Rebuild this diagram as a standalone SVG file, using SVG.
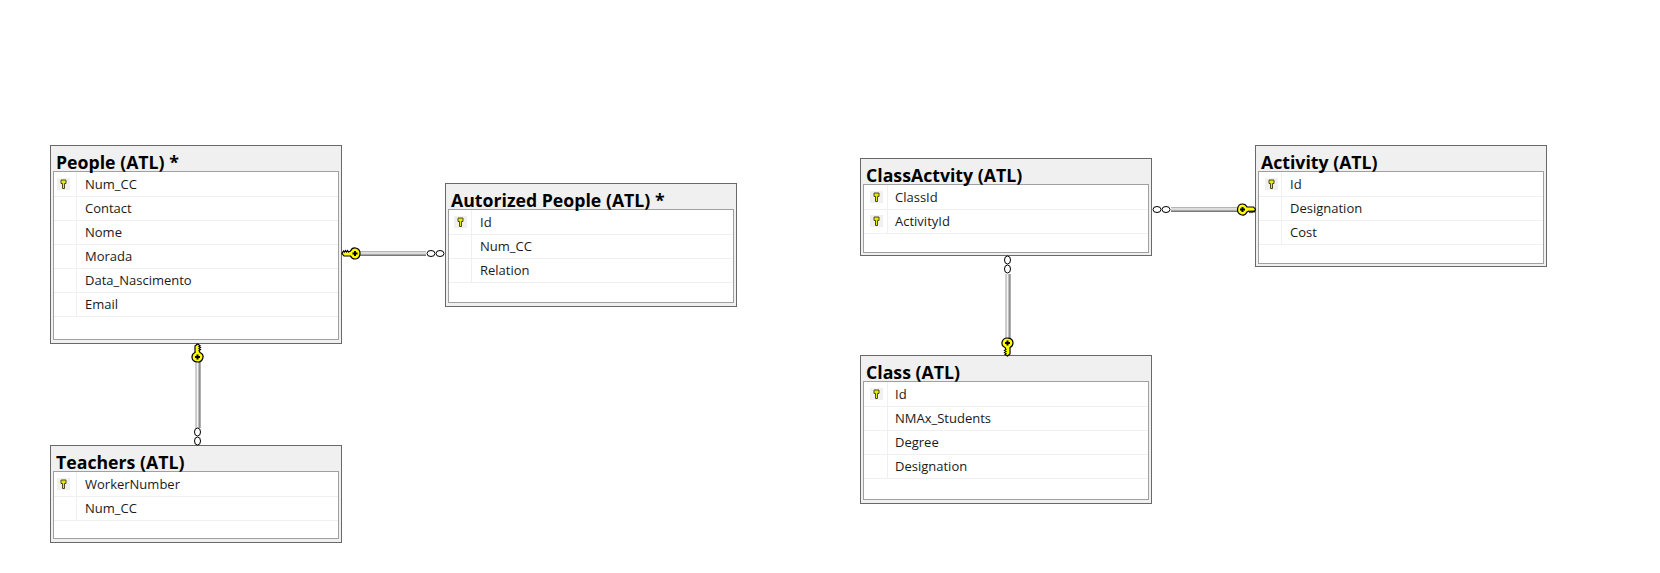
<svg xmlns="http://www.w3.org/2000/svg" width="1660" height="573" viewBox="0 0 1660 573">
<style>
.outer{fill:#f0f0f0;stroke:#696969;stroke-width:1}
.inner{fill:#fff;stroke:#a0a0a0;stroke-width:1}
.row{stroke:#f0f0f0;stroke-width:1;fill:none}
.cell{fill:#f0f0f0}
.title{font:bold 17.700px "Open Sans","Noto Sans",sans-serif;fill:#000}
.col{font:13px "Open Sans","Noto Sans",sans-serif;fill:#1a1a1a}
.inf{fill:#fff;stroke:#000;stroke-width:1}
.keyb{fill:#ffff00;stroke:#000;stroke-width:1.200}
</style>
<defs>
<linearGradient id="gh" x1="0" y1="0" x2="0" y2="1"><stop offset="0" stop-color="#a0a0a0"/><stop offset=".4" stop-color="#f4f4f4"/><stop offset=".6" stop-color="#c0c0c0"/><stop offset="1" stop-color="#606060"/></linearGradient>
<linearGradient id="gv" x1="0" y1="0" x2="1" y2="0"><stop offset="0" stop-color="#a0a0a0"/><stop offset=".4" stop-color="#f4f4f4"/><stop offset=".6" stop-color="#c0c0c0"/><stop offset="1" stop-color="#606060"/></linearGradient>
<g id="key"><path class="keyb" d="M0-5.500a5 5.500 0 0 1 4.500 3H11L13 0 11.500 2.500 10.500 1.500 9.500 3 8.500 1.500 7.500 3 6.500 1.500 5.500 2 4.500 2.500A5 5.500 0 1 1 0-5.500Z"/><path d="M-1-2.500H1V-1H2.500V1H1V2.500H-1V1H-2.500V-1H-1Z"/></g>
<g id="pk"><rect x="-6.500" y="-6" width="13" height="12" class="cell"/><path d="M-2.500-4H2.500V-.5L1-.5V4.500H-1V-.5L-2.500-.5Z" fill="#e8e800" stroke="#4a4a20" stroke-width="1"/></g>
</defs>

<g id="people">
<rect class="outer" x="50.500" y="145.500" width="291" height="198"/>
<rect class="inner" x="53.500" y="171.500" width="285" height="168"/>
<path class="row" d="M54 196.500H338M54 220.500H338M54 244.500H338M54 268.500H338M54 292.500H338M54 316.500H338M76.500 172V316"/>
<use href="#pk" x="63.500" y="184"/>
<text class="title" x="56" y="169">People (ATL) *</text>
<text class="col" x="85" y="189">Num_CC</text>
<text class="col" x="85" y="213">Contact</text>
<text class="col" x="85" y="237">Nome</text>
<text class="col" x="85" y="261">Morada</text>
<text class="col" x="85" y="285">Data_Nascimento</text>
<text class="col" x="85" y="309">Email</text>
</g>

<g id="autorized">
<rect class="outer" x="445.500" y="183.500" width="291" height="123"/>
<rect class="inner" x="448.500" y="209.500" width="285" height="93"/>
<path class="row" d="M449 234.500H733M449 258.500H733M449 282.500H733M471.500 210V282"/>
<use href="#pk" x="460.500" y="222"/>
<text class="title" x="451" y="207">Autorized People (ATL) *</text>
<text class="col" x="480" y="227">Id</text>
<text class="col" x="480" y="251">Num_CC</text>
<text class="col" x="480" y="275">Relation</text>
</g>

<g id="teachers">
<rect class="outer" x="50.500" y="445.500" width="291" height="97"/>
<rect class="inner" x="53.500" y="471.500" width="285" height="67"/>
<path class="row" d="M54 496.500H338M54 520.500H338M76.500 472V520"/>
<use href="#pk" x="63.500" y="484"/>
<text class="title" x="56" y="469">Teachers (ATL)</text>
<text class="col" x="85" y="489">WorkerNumber</text>
<text class="col" x="85" y="513">Num_CC</text>
</g>

<g id="classactivity">
<rect class="outer" x="860.500" y="158.500" width="291" height="97"/>
<rect class="inner" x="863.500" y="184.500" width="285" height="68"/>
<path class="row" d="M864 209.500H1148M864 233.500H1148M887.500 185V233"/>
<use href="#pk" x="876.500" y="197"/>
<use href="#pk" x="876.500" y="221"/>
<text class="title" x="866" y="182">ClassActvity (ATL)</text>
<text class="col" x="895" y="202">ClassId</text>
<text class="col" x="895" y="226">ActivityId</text>
</g>

<g id="activity">
<rect class="outer" x="1255.500" y="145.500" width="291" height="121"/>
<rect class="inner" x="1258.500" y="171.500" width="285" height="92"/>
<path class="row" d="M1259 196.500H1543M1259 220.500H1543M1259 244.500H1543M1281.500 172V244"/>
<use href="#pk" x="1271.500" y="184"/>
<text class="title" x="1261" y="169">Activity (ATL)</text>
<text class="col" x="1290" y="189">Id</text>
<text class="col" x="1290" y="213">Designation</text>
<text class="col" x="1290" y="237">Cost</text>
</g>

<g id="class">
<rect class="outer" x="860.500" y="355.500" width="291" height="148"/>
<rect class="inner" x="863.500" y="381.500" width="285" height="118"/>
<path class="row" d="M864 406.500H1148M864 430.500H1148M864 454.500H1148M864 478.500H1148M887.500 382V478"/>
<use href="#pk" x="876.500" y="394"/>
<text class="title" x="866" y="379">Class (ATL)</text>
<text class="col" x="895" y="399">Id</text>
<text class="col" x="895" y="423">NMAx_Students</text>
<text class="col" x="895" y="447">Degree</text>
<text class="col" x="895" y="471">Designation</text>
</g>

<g id="connectors">
<rect x="359" y="251" width="67" height="5" fill="url(#gh)"/>
<ellipse class="inf" cx="431" cy="253.500" rx="4" ry="3"/><ellipse class="inf" cx="440" cy="253.500" rx="4" ry="3"/>
<use href="#key" transform="translate(355 253.500) rotate(180)"/>

<rect x="195.500" y="362" width="5" height="66" fill="url(#gv)"/>
<ellipse class="inf" cx="197.500" cy="432" rx="3" ry="4"/><ellipse class="inf" cx="197.500" cy="441" rx="3" ry="4"/>
<use href="#key" transform="translate(197.500 357) rotate(-90)"/>

<rect x="1171" y="207" width="67" height="5" fill="url(#gh)"/>
<ellipse class="inf" cx="1157" cy="209.500" rx="4" ry="3"/><ellipse class="inf" cx="1166" cy="209.500" rx="4" ry="3"/>
<use href="#key" transform="translate(1242.500 209.500)"/>

<rect x="1005.500" y="274" width="5" height="64" fill="url(#gv)"/>
<ellipse class="inf" cx="1007.500" cy="260" rx="3" ry="4"/><ellipse class="inf" cx="1007.500" cy="269" rx="3" ry="4"/>
<use href="#key" transform="translate(1007.500 343) rotate(90)"/>
</g>
</svg>
